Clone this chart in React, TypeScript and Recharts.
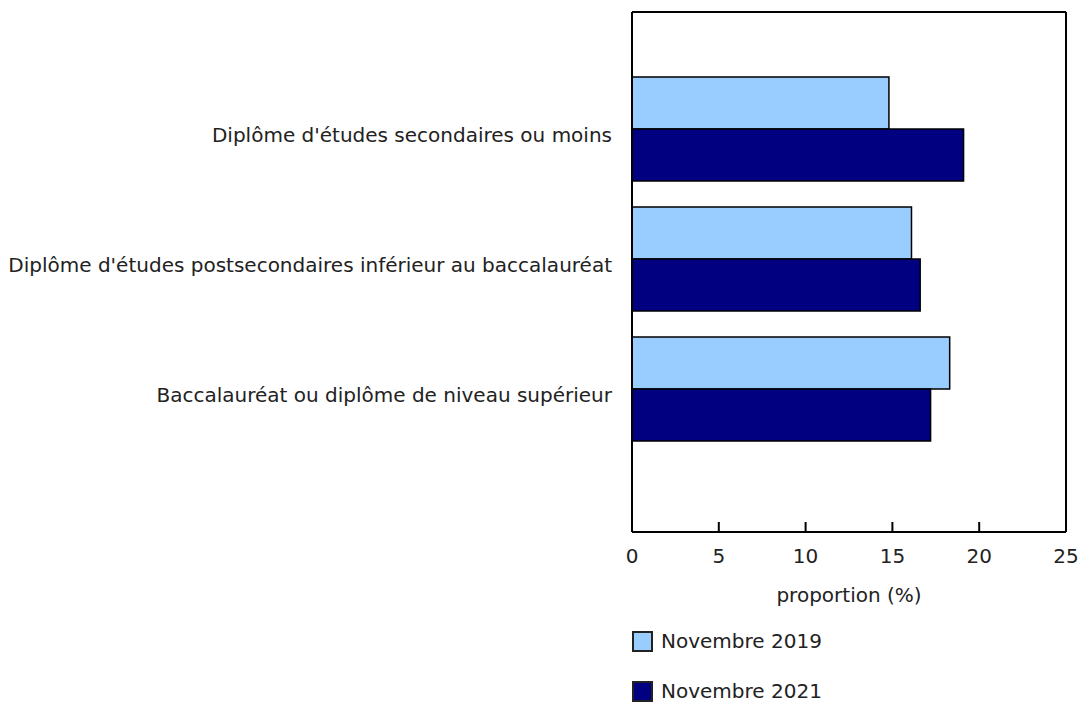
import { Bar, BarChart, Legend, XAxis, YAxis } from "recharts";

const categories = [
	"Diplôme d'études secondaires ou moins",
	"Diplôme d'études postsecondaires inférieur au baccalauréat",
	"Baccalauréat ou diplôme de niveau supérieur",
];
const nov2019 = [14.8, 16.1, 18.3];
const nov2021 = [19.1, 16.6, 17.2];
const xTicks = [0, 5, 10, 15, 20, 25];

const seriesInfo = [
	{ key: "nov2019", name: "Novembre 2019", color: "#99CCFF" },
	{ key: "nov2021", name: "Novembre 2021", color: "#000080" },
];

const data = categories.map((cat, i) => ({ cat, nov2019: nov2019[i], nov2021: nov2021[i] }));

const FONT = "'DejaVu Sans', Verdana, sans-serif";
const FS = 20;

function XTick(props: any) {
	const { x, y, payload } = props;
	return (
		<g>
			<line x1={x} x2={x} y1={y} y2={y - 10} stroke="#000" strokeWidth={2} />
			<text x={x} y={y + 31} textAnchor="middle" fontSize={FS} fontFamily={FONT} fill="#222">
				{payload.value}
			</text>
		</g>
	);
}

function LegendBox() {
	return (
		<div style={{ fontFamily: FONT, fontSize: FS, color: "#222" }}>
			{seriesInfo.map((s) => (
				<div key={s.key} style={{ display: "flex", alignItems: "center", height: 20, marginBottom: 30 }}>
					<span
						style={{
							width: 17,
							height: 17,
							background: s.color,
							border: "2px solid #222",
							marginRight: 8,
							display: "inline-block",
						}}
					/>
					<span>{s.name}</span>
				</div>
			))}
		</div>
	);
}

export default function App() {
	return (
		<div style={{ position: "absolute", left: 0, top: 0, background: "white" }}>
			<BarChart
				width={1080}
				height={702}
				data={data}
				layout="vertical"
				margin={{ top: 11, right: 13, bottom: 0, left: 0 }}
				barCategoryGap={13}
				barGap={0}
			>
				<XAxis
					type="number"
					domain={[0, 25]}
					ticks={xTicks}
					interval={0}
					tickSize={0}
					tickMargin={0}
					tick={<XTick />}
					axisLine={{ stroke: "#000", strokeWidth: 2 }}
					height={170}
					label={{ value: "proportion (%)", position: "insideTop", offset: 56, fontSize: FS, fontFamily: FONT, fill: "#222" }}
				/>
				<XAxis
					xAxisId="top"
					orientation="top"
					type="number"
					domain={[0, 25]}
					height={1}
					tick={false}
					tickLine={false}
					axisLine={{ stroke: "#000", strokeWidth: 2 }}
				/>
				<YAxis
					type="category"
					dataKey="cat"
					width={632}
					tickSize={0}
					tickMargin={20}
					tickLine={false}
					padding={{ top: 52, bottom: 78 }}
					axisLine={{ stroke: "#000", strokeWidth: 2 }}
					tick={{ fontSize: FS, fontFamily: FONT, fill: "#222", dy: 6 }}
					interval={0}
				/>
				<YAxis
					yAxisId="right"
					orientation="right"
					type="category"
					dataKey="cat"
					width={1}
					tick={false}
					tickLine={false}
					axisLine={{ stroke: "#000", strokeWidth: 2 }}
				/>
				<Legend
					layout="vertical"
					align="center"
					verticalAlign="middle"
					content={<LegendBox />}
					wrapperStyle={{ left: 632, top: 631, width: 300 }}
				/>
				{seriesInfo.map((s) => (
					<Bar
						key={s.key}
						dataKey={s.key}
						name={s.name}
						fill={s.color}
						stroke="#000"
						strokeWidth={1.5}
						isAnimationActive={false}
					/>
				))}
			</BarChart>
		</div>
	);
}
